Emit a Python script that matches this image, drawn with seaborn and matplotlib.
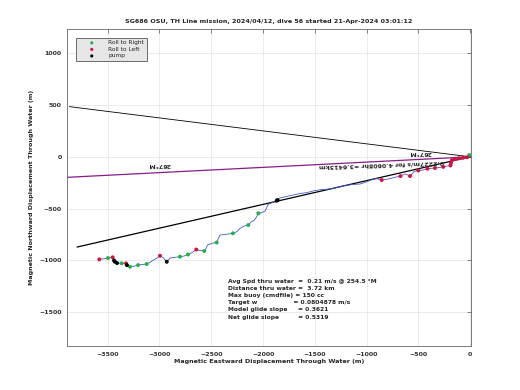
import numpy as np
import pandas as pd
import matplotlib
matplotlib.use("Agg")
import matplotlib.pyplot as plt
import seaborn as sns

# glider track through water (m), east / north
track_x = [0, -42, -119, -177, -186, -191, -225, -261, -302, -341, -379, -413, -457, -502, -543, -563,
           -582, -630, -674, -736, -794, -855, -910, -952, -1007, -1065, -1142, -1209, -1287, -1354,
           -1431, -1499, -1576, -1644, -1711, -1779, -1837, -1869, -1914, -1953, -1967, -1982, -2014,
           -2046, -2064, -2088, -2110, -2143, -2184, -2223, -2252, -2291, -2358, -2416, -2435, -2448,
           -2493, -2537, -2551, -2568, -2609, -2645, -2677, -2725, -2764, -2802, -2850, -2899, -2930,
           -2966, -2995, -3024, -3063, -3124, -3169, -3207, -3246, -3284, -3314, -3323, -3365, -3410,
           -3430, -3439, -3452, -3497, -3545, -3581]
track_y = [0, -7, -16, -31, -60, -84, -89, -97, -103, -108, -111, -115, -128, -132, -142, -166,
           -186, -166, -186, -200, -215, -224, -210, -222, -244, -263, -268, -277, -297, -311,
           -316, -326, -345, -355, -369, -384, -398, -424, -442, -461, -495, -524, -540,
           -546, -582, -616, -625, -659, -669, -691, -722, -739, -749, -756, -794, -828,
           -836, -852, -886, -910, -905, -896, -920, -944, -959, -965, -971, -978, -1014,
           -973, -956, -978, -1002, -1036, -1041, -1046, -1057, -1062, -1046, -1029, -1029, -1026,
           -1014, -1002, -971, -978, -986, -991]

right_x = [-10, -2046, -2143, -2291, -2448, -2568, -2725, -2802, -3124, -3207, -3284, -3365, -3497]
right_y = [17, -546, -659, -739, -828, -910, -944, -965, -1036, -1046, -1062, -1029, -978]
left_x = [-30, -70, -110, -150, -177, -186, -191, -261, -341, -413, -502, -582, -674, -855,
          -2645, -2995, -3323, -3452, -3581]
left_y = [-4, -9, -14, -22, -31, -60, -84, -97, -108, -115, -132, -186, -186, -224,
          -896, -956, -1029, -971, -991]
pump_x = [-1860, -1869, -2930, -3314, -3410, -3430, -3439]
pump_y = [-418, -424, -1014, -1046, -1026, -1014, -1002]

# reference lines from the start point
head_x = [-3870, 0]
head_y = [485, 0]
ctw_x = [-3890, 0]
ctw_y = [-198, 0]
cur_x = [-3796, 0]
cur_y = [-872, 0]

title = "SG686 OSU, TH Line mission, 2024/04/12, dive 56 started 21-Apr-2024 03:01:12"
summary = ["Avg Spd thru water  =  0.21 m/s @ 254.5 \u00b0M",
           "Distance thru water =  3.72 km",
           "Max buoy (cmdfile) = 150 cc",
           "Target w                 = 0.0804878 m/s",
           "Model glide slope     = 0.3621",
           "Net glide slope         = 0.5319"]

sns.set_theme(style="whitegrid")
plt.rcParams["font.family"] = ["DejaVu Sans"]

fig = plt.figure(figsize=(5.2, 3.9), dpi=100)
ax = fig.add_axes([0.1294, 0.1128, 0.7764, 0.8128])

sns.lineplot(x=head_x, y=head_y, color="black", lw=0.6, ax=ax, sort=False)
sns.lineplot(x=ctw_x, y=ctw_y, color="#8b1a8b", lw=0.9, ax=ax, sort=False)
sns.lineplot(x=cur_x, y=cur_y, color="black", lw=0.9, ax=ax, sort=False)
sns.lineplot(x=track_x, y=track_y, color="#3f5bd0", lw=0.6, ax=ax, sort=False)

sns.scatterplot(x=right_x, y=right_y, color="#22b04a", s=8, edgecolor="none", label="Roll to Right", ax=ax, zorder=5)
sns.scatterplot(x=left_x, y=left_y, color="#d3123f", s=8, edgecolor="none", label="Roll to Left", ax=ax, zorder=5)
sns.scatterplot(x=pump_x, y=pump_y, color="black", s=8, edgecolor="none", label="pump", ax=ax, zorder=6)

ax.text(-483, 45, "267\u00b0M", rotation=180, fontsize=4.5, fontweight="bold", ha="center", va="center")
ax.text(-3005, -70, "267\u00b0M", rotation=180, fontsize=4.5, fontweight="bold", ha="center", va="center")
ax.text(-860, -70, "0.2227m/s for 4.0608hr =3.6413km", rotation=182, fontsize=4.5,
        fontweight="bold", ha="center", va="center")

for i, line in enumerate(summary):
    ax.text(-2339, (156.8 - (281 + 7.2 * i)) / 0.10348, line, fontsize=4.3, fontweight="bold",
            ha="left", va="center")

ax.set_xlim(-3890, 7)
ax.set_ylim(-1828, 1235)
ax.set_xticks(np.arange(-3500, 1, 500))
ax.set_yticks(np.arange(-1500, 1001, 500))
ax.grid(True, color="#e3e3e3", lw=0.5)
ax.tick_params(direction="in", top=True, right=True, length=3, width=0.5, colors="#555555",
               labelsize=4.5, labelcolor="#333333", pad=4)
for lab in ax.get_xticklabels() + ax.get_yticklabels():
    lab.set_fontweight("bold")
for sp in ax.spines.values():
    sp.set_color("#666666")
    sp.set_linewidth(0.6)

ax.set_title(title, fontsize=4.6, fontweight="bold", pad=4)
ax.set_xlabel("Magnetic Eastward Displacement Through Water (m)", fontsize=4.6, fontweight="bold", labelpad=2)
ax.set_ylabel("Magnetic Northward Displacement Through Water (m)", fontsize=4.6, fontweight="bold", labelpad=4)

leg = ax.legend(loc="upper left", bbox_to_anchor=(0.0216, 0.9726), borderaxespad=0, fontsize=4.2,
                frameon=True, fancybox=False, handlelength=4.5, handletextpad=0.6, borderpad=0.45,
                labelspacing=0.25, markerscale=0.8)
leg.get_frame().set_facecolor("#e6e6e6")
leg.get_frame().set_edgecolor("#555555")
leg.get_frame().set_linewidth(0.6)
leg.get_frame().set_alpha(1)

fig.savefig("out.png", dpi=100)
